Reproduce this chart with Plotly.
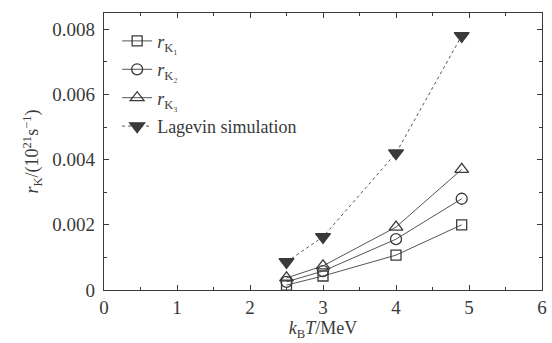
import plotly.graph_objects as go

x_temp = [2.5, 3.0, 4.0, 4.9]
r_k1 = [0.00015, 0.00043, 0.00107, 0.0020]
r_k2 = [0.00025, 0.00058, 0.00156, 0.0028]
r_k3 = [0.00037, 0.00074, 0.00193, 0.0037]
langevin = [0.00086, 0.00163, 0.0042, 0.0078]

x_ticks = [0, 1, 2, 3, 4, 5, 6]
y_ticks = [0, 0.002, 0.004, 0.006, 0.008]
y_tick_labels = ["0", "0.002", "0.004", "0.006", "0.008"]

FONT = "Liberation Serif, Times New Roman, serif"
INK = "#3a3a3a"
fig = go.Figure()

def add(y, name, symbol, dash, size, group):
    fig.add_trace(go.Scatter(
        x=x_temp, y=y, name=name, mode="lines+markers", legendgroup=group,
        line=dict(color="#555555", width=1, dash=dash),
        marker=dict(symbol=symbol, size=size,
                    color=INK, line=dict(color=INK, width=1.3)),
    ))

add(r_k1, "<i>r</i><sub>K₁</sub>", "square-open", "solid", 10, "a")
add(r_k2, "<i>r</i><sub>K₂</sub>", "circle-open", "solid", 11, "b")
add(r_k3, "<i>r</i><sub>K₃</sub>", "triangle-up-open", "solid", 12, "c")
add(langevin, "Lagevin simulation", "triangle-down", "dot", 13, "d")

axis_common = dict(
    showline=True, linecolor=INK, linewidth=1.3, mirror="ticks",
    ticks="inside", ticklen=5, tickcolor=INK, showgrid=False, zeroline=False,
    tickfont=dict(family=FONT, size=19, color=INK), ticklabeloverflow="allow",
)
fig.update_xaxes(range=[0, 6], tickvals=x_ticks,
                 minor=dict(ticks="inside", ticklen=3, dtick=0.5, tickcolor=INK),
                 title=dict(text="<i>k</i><sub>B</sub><i>T</i>/MeV", standoff=2,
                            font=dict(family=FONT, size=18, color=INK)),
                 **axis_common)
fig.update_yaxes(range=[0, 0.0085], tickvals=y_ticks, ticktext=y_tick_labels,
                 ticklabelstandoff=4,
                 minor=dict(ticks="inside", ticklen=3, dtick=0.001, tickcolor=INK),
                 title=dict(text="<i>r</i><sub>K</sub>/(10<sup>21</sup>s<sup>−1</sup>)", standoff=8,
                            font=dict(family=FONT, size=18, color=INK)),
                 **axis_common)
fig.update_layout(
    width=552, height=343,
    margin=dict(l=104, r=5, t=13, b=53),
    plot_bgcolor="white", paper_bgcolor="white",
    font=dict(family=FONT, color=INK),
    legend=dict(x=0.03, y=0.965, xanchor="left", yanchor="top",
                bgcolor="rgba(0,0,0,0)", font=dict(family=FONT, size=18, color=INK),
                tracegroupgap=2),
    showlegend=True,
)
fig.write_html("out.html")
